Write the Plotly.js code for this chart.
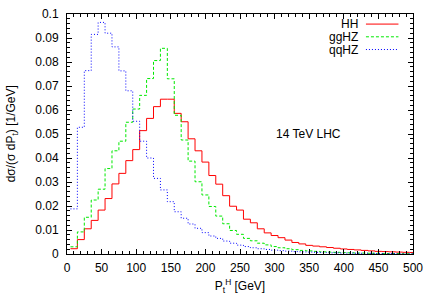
<!DOCTYPE html>
<html>
<head>
<meta charset="utf-8">
<script src="https://cdn.plot.ly/plotly-3.0.1.min.js"></script>
<style>html,body{margin:0;padding:0;background:#fff;}#chart{width:436px;height:305px;}</style>
</head>
<body>
<div id="chart"></div>
<script>
// bin centres (GeV)
const ptCenters = [10,20,30,40,50,60,70,80,90,100,110,120,130,140,150,160,170,180,190,200,
  210,220,230,240,250,260,270,280,290,300,310,320,330,340,350,360,370,380,390,400,
  410,420,430,440,450,460,470,480,490,500];
const seriesNames = ["HH","ggHZ","qqHZ"];
const hhValues = [0.0022,0.0060,0.0105,0.0140,0.0183,0.0231,0.0292,0.0336,0.0389,0.0435,
  0.0514,0.0565,0.0614,0.0645,0.0645,0.0586,0.0551,0.0480,0.0430,0.0383,
  0.0327,0.0291,0.0243,0.0199,0.0183,0.0145,0.0130,0.0105,0.0088,0.0077,
  0.0068,0.0058,0.0048,0.0042,0.0036,0.0033,0.0030,0.0027,0.0024,0.0021,
  0.0019,0.0017,0.0015,0.0013,0.0011,0.0010,0.0009,0.0008,0.0007,0.0006];
const gghzValues = [0.0030,0.0092,0.0153,0.0225,0.0270,0.0356,0.0430,0.0470,0.0549,0.0604,
  0.0661,0.0731,0.0806,0.0857,0.0730,0.0578,0.0475,0.0387,0.0301,0.0246,
  0.0198,0.0158,0.0126,0.0098,0.0082,0.0065,0.0055,0.0045,0.0038,0.0031,
  0.0026,0.0022,0.0018,0.0015,0.0013,0.0011,0.0009,0.0008,0.0007,0.0006,
  0.0005,0.0004,0.0004,0.0003,0.0003,0.0002,0.0002,0.0002,0.0001,0.0001];
const qqhzValues = [0.0188,0.0528,0.0764,0.0915,0.0965,0.0920,0.0863,0.0763,0.0680,0.0553,
  0.0470,0.0400,0.0315,0.0267,0.0218,0.0176,0.0149,0.0125,0.0107,0.0089,
  0.0075,0.0065,0.0054,0.0045,0.0037,0.0031,0.0026,0.0022,0.0019,0.0016,
  0.0014,0.0012,0.0010,0.0009,0.0008,0.0007,0.0006,0.0005,0.0005,0.0004,
  0.0004,0.0003,0.0003,0.0003,0.0002,0.0002,0.0002,0.0001,0.0001,0.0001];
const xTickVals = [0,50,100,150,200,250,300,350,400,450,500];
const yTickVals = [0,0.01,0.02,0.03,0.04,0.05,0.06,0.07,0.08,0.09,0.1];

// histogram steps (gnuplot "histeps"): edges half way between centres
function steps(c, v){
  const half = (c[1]-c[0])/2;
  const x = c.map(function(a){return a-half;});
  x.push(c[c.length-1]+half);
  const y = v.slice(); y.push(v[v.length-1]);
  return {x:x, y:y};
}
const colors = ["#ff0000","#00e800","#0000ff"];
const dashes = ["solid","3px,2px","1px,2px"];
const vals = [hhValues, gghzValues, qqhzValues];
const traces = vals.map(function(v,i){
  const s = steps(ptCenters, v);
  return {x:s.x, y:s.y, type:"scatter", mode:"lines", name:seriesNames[i],
    line:{color:colors[i], width:1, shape:"hv", dash:dashes[i]}, hoverinfo:"skip"};
});

const font = {family:"Liberation Sans, Arial, sans-serif", size:12, color:"#000"};
const annotations = [];
const shapes = [];
const legY = [0.958, 0.905, 0.852];
seriesNames.forEach(function(n,i){
  annotations.push({xref:"paper", yref:"paper", x:0.845, y:legY[i], xanchor:"right", yanchor:"middle",
    text:n, showarrow:false, font:font, borderpad:0});
  shapes.push({type:"line", xref:"paper", yref:"paper", x0:0.864, x1:0.958, y0:legY[i], y1:legY[i],
    line:{color:colors[i], width:1, dash:dashes[i]}});
});
annotations.push({xref:"x", yref:"y", x:299, y:0.050, xanchor:"left", yanchor:"middle",
  text:"14 TeV LHC", showarrow:false, font:font});
// y-axis title placed as rotated text
annotations.push({xref:"paper", yref:"paper", x:-0.158, y:0.5, xanchor:"center", yanchor:"middle",
  textangle:-90, text:"dσ/(σ dP<sub>t</sub>) [1/GeV]", showarrow:false, font:font});

const axisCommon = {showgrid:false, zeroline:false, showline:true, linecolor:"#000", linewidth:1,
  mirror:"ticks", ticks:"inside", ticklen:5, tickcolor:"#000", tickwidth:1, tickfont:font};

const layout = {
  width:436, height:305,
  margin:{l:67, r:23, t:14, b:51, pad:0},
  paper_bgcolor:"#fff", plot_bgcolor:"#fff",
  showlegend:false,
  font:font,
  xaxis:Object.assign({}, axisCommon, {range:[0,500], tickvals:xTickVals, ticktext:xTickVals.map(String),
    ticklabelstandoff:3,
    minor:{dtick:10, ticks:"inside", ticklen:3, tickcolor:"#000"},
    title:{text:"P<sub>t</sub><sup>H</sup> [GeV]", font:font, standoff:7}}),
  yaxis:Object.assign({}, axisCommon, {range:[0,0.1], tickvals:yTickVals, ticktext:yTickVals.map(String),
    ticklabelstandoff:5,
    minor:{dtick:0.002, ticks:"inside", ticklen:3, tickcolor:"#000"}}),
  annotations:annotations,
  shapes:shapes
};
Plotly.newPlot("chart", traces, layout, {staticPlot:true, displayModeBar:false});
</script>
</body>
</html>
